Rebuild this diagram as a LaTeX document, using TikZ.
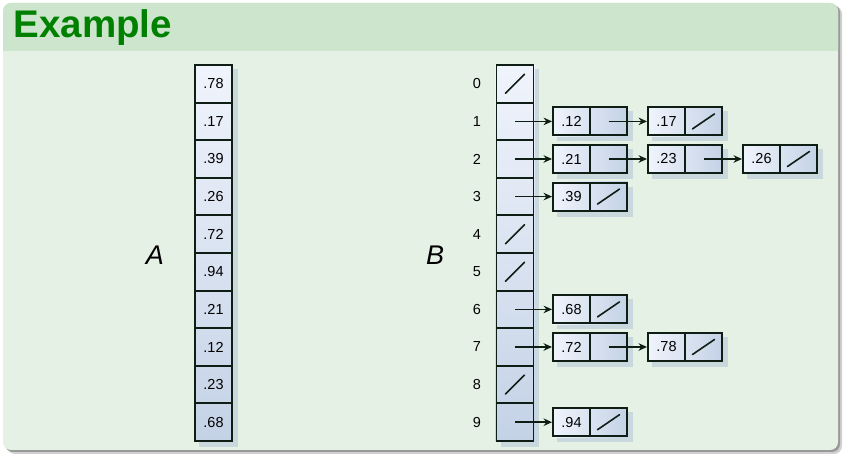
\documentclass[tikz,border=0pt]{standalone}
\usepackage{fontspec}
\setmainfont{Liberation Sans}
\usetikzlibrary{arrows.meta,calc}
\pgfdeclarelayer{bg}
\pgfsetlayers{bg,main}
\definecolor{titlebg}{RGB}{204,229,204}
\definecolor{bodybg}{RGB}{230,241,230}
\definecolor{titlefg}{RGB}{0,128,0}
\definecolor{celllight}{RGB}{240,244,252}
\definecolor{celldark}{RGB}{196,210,230}
\definecolor{cellshadow}{RGB}{200,216,220}
\definecolor{edge}{RGB}{15,30,20}
\begin{document}
\begin{tikzpicture}[x=1pt,y=1pt,
  cellbox/.style={draw=edge, line width=1.9pt, minimum width=37pt, minimum height=37.6pt, inner sep=0pt, font=\fontsize{14.5}{16}\selectfont},
  listcell/.style={draw=edge, line width=1.9pt, minimum width=37pt, minimum height=28pt, inner sep=0pt, font=\fontsize{14.5}{16}\selectfont},
  idx/.style={inner sep=0pt, font=\fontsize{14.5}{16}\selectfont},
  biglabel/.style={inner sep=0pt, font=\fontsize{27}{30}\selectfont\itshape},
  ptr/.style={-{Stealth[length=8.5pt,width=7.5pt]}, line width=1.5pt, draw=edge},
  nilline/.style={line width=1.6pt, draw=edge, line cap=round},
  shadowbox/.style={fill=cellshadow},
]
\useasboundingbox (0,0) rectangle (843,457);
\begin{pgfonlayer}{bg}
  \fill[black!18, rounded corners=8pt] (7,3) rectangle (842,451);
  \fill[black!40, rounded corners=8pt] (5,5) rectangle (840,452.5);
  \fill[bodybg, rounded corners=8pt] (3,7) rectangle (838,454);
  \fill[titlebg] (3,406) [rounded corners=8pt] -- (3,454) -- (838,454) [sharp corners] -- (838,406) -- cycle;
\end{pgfonlayer}

\node[anchor=base west, inner sep=0pt, font=\fontsize{38.5}{42}\selectfont\bfseries, text=titlefg] (title) at (13.5,419.7) {Example};

% array A
\foreach \v [count=\i from 0] in {.78,.17,.39,.26,.72,.94,.21,.12,.23,.68} {
  \node[cellbox] (A\i) at (213.5,{392-37.6*(\i+0.5)}) {\v};
}
\node[biglabel] (labA) at (155,202) {A};

% array B
\foreach \i in {0,...,9} {
  \node[cellbox] (B\i) at (515,{392-37.6*(\i+0.5)}) {};
  \node[idx] (I\i) at (477,{392-37.6*(\i+0.5)}) {\i};
}
\node[biglabel] (labB) at (435,202) {B};

\begin{pgfonlayer}{bg}
  \fill[shadowbox] ($(A0.north west)+(5,-5)$) rectangle ($(A9.south east)+(5,-5)$);
  \shade[top color=celllight, bottom color=celldark] (A0.north west) rectangle (A9.south east);
  \fill[shadowbox] ($(B0.north west)+(5,-5)$) rectangle ($(B9.south east)+(5,-5)$);
  \shade[top color=celllight, bottom color=celldark] (B0.north west) rectangle (B9.south east);
\end{pgfonlayer}

% list nodes
\foreach \r/\k/\v in {1/0/.12, 1/1/.17, 2/0/.21, 2/1/.23, 2/2/.26, 3/0/.39, 6/0/.68, 7/0/.72, 7/1/.78, 9/0/.94} {
  \node[listcell] (K\r\k) at ({571.5+95*\k},{392-37.6*(\r+0.5)}) {\v};
  \node[listcell] (P\r\k) at ({608.5+95*\k},{392-37.6*(\r+0.5)}) {};
  \begin{pgfonlayer}{bg}
    \fill[shadowbox] ($(K\r\k.north west)+(5,-5)$) rectangle ($(P\r\k.south east)+(5,-5)$);
    \shade[left color=celllight, right color=celldark] (K\r\k.north west) rectangle (P\r\k.south east);
  \end{pgfonlayer}
}

% pointers
\draw[ptr] (B1.center) -- (K10.west);
\draw[ptr] (P10.center) -- (K11.west);
\draw[ptr] (B2.center) -- (K20.west);
\draw[ptr] (P20.center) -- (K21.west);
\draw[ptr] (P21.center) -- (K22.west);
\draw[ptr] (B3.center) -- (K30.west);
\draw[ptr] (B6.center) -- (K60.west);
\draw[ptr] (B7.center) -- (K70.west);
\draw[ptr] (P70.center) -- (K71.west);
\draw[ptr] (B9.center) -- (K90.west);

% nil pointers
\foreach \n in {B0,B4,B5,B8} {
  \draw[nilline] ($(\n.center)+(-9.5,-9.5)$) -- ($(\n.center)+(9.5,9.5)$);
}
\foreach \n in {P11,P22,P30,P60,P71,P90} {
  \draw[nilline] ($(\n.center)+(-11,-7.5)$) -- ($(\n.center)+(11,7.5)$);
}
\end{tikzpicture}
\end{document}
